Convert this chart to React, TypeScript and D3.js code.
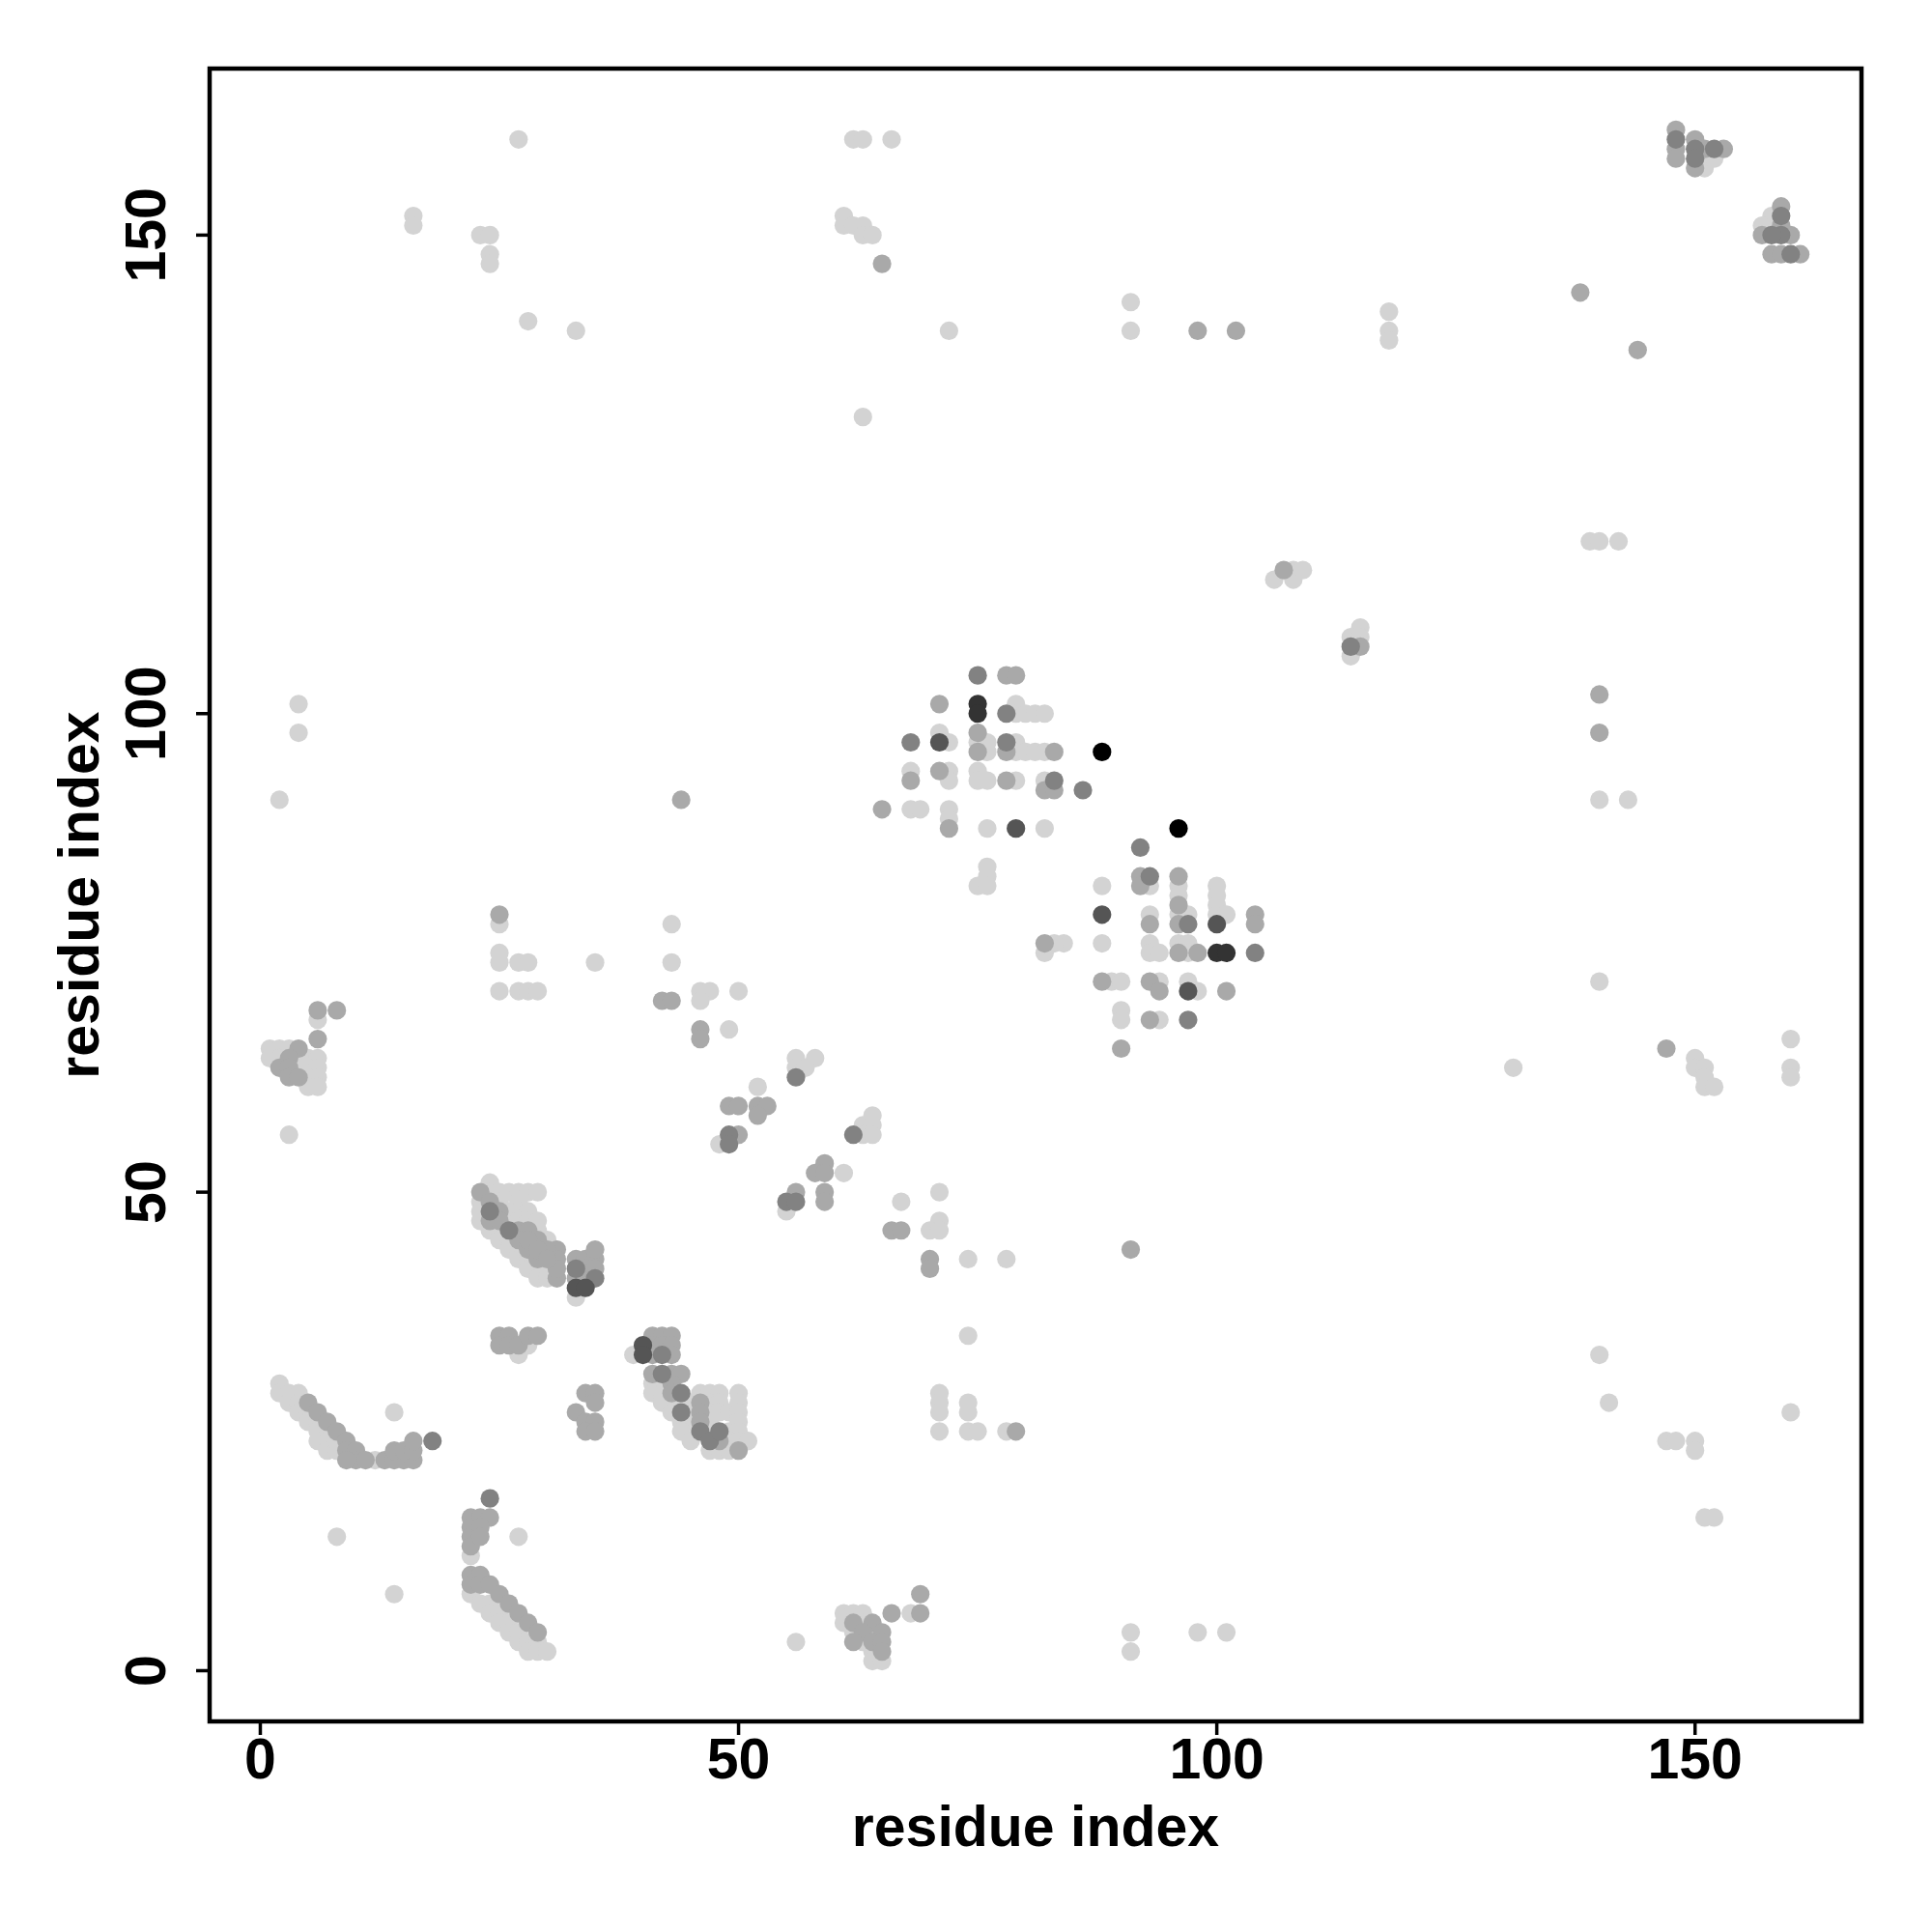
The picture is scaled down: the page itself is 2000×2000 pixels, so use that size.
import React from "react";
import * as d3 from "d3";

// contact map points [residue i, residue j], grouped by grey level
const lightContacts: [number, number][] = [
  [27,160],[16,152],[16,151],[23,150],[24,150],[24,148],[24,147],[28,141],[33,140],
  [62,160],[63,160],[66,160],[61,152],[61,151],[62,151],[63,151],[63,150],[64,150],[63,131],[72,140],[91,143],[91,140],[118,142],[118,140],[118,139],
  [151,158],[151,157],[152,158],[158,152],[158,151],[157,151],
  [139,118],[140,118],[142,118],[106,114],[108,115],[108,114],[109,115],[115,109],[114,108],[115,108],[114,106],
  [140,91],[143,91],[140,72],[131,63],[160,66],[160,63],[160,62],[150,64],[150,63],[151,63],[151,62],[151,61],[152,61],
  [140,33],[141,28],[160,27],[147,24],[148,24],[150,24],[150,23],[151,16],[152,16],
  [4,101],[4,98],[2,91],[6,68],[3,56],
  [1,65],[2,65],[3,65],[1,64],[2,64],[4,64],[5,64],[6,64],[4,63],[5,63],[6,63],[5,62],[6,62],[5,61],[6,61],
  [25,78],[25,75],[25,74],[27,74],[28,74],[35,74],[43,78],[43,74],[25,71],[27,71],[28,71],[29,71],[46,71],[47,71],[46,70],[50,71],[49,67],
  [79,101],[79,100],[80,100],[81,100],[82,100],[71,98],[72,97],[75,97],[76,97],[76,96],[79,97],[79,96],[80,96],[81,96],[82,96],
  [68,94],[72,94],[72,93],[75,94],[75,93],[76,93],[79,93],[82,93],[68,90],[69,90],[72,90],[72,89],[76,88],[82,88],[76,84],[76,83],[75,82],[76,82],[88,82],
  [93,82],[96,82],[96,81],[96,79],[97,79],[100,82],[100,81],[100,80],[100,79],[101,79],[93,79],[84,76],[83,76],[82,75],[88,76],[93,76],[93,75],[94,75],
  [96,76],[97,76],[97,75],[89,72],[90,72],[94,72],[97,72],[98,71],[90,69],[90,68],[94,68],
  [56,64],[58,64],[56,63],[57,63],[52,61],[48,55],[61,52],[55,48],[64,58],[63,57],[64,57],[63,56],[64,56],
  [67,49],[71,50],[71,47],[70,46],[71,46],[74,43],[78,43],[74,35],[71,29],[71,28],[71,27],[71,25],[74,28],[74,27],[74,25],[75,25],[78,25],
  [91,4],[91,2],[98,4],[101,4],[56,3],[68,6],
  [61,6],[62,6],[63,6],[61,5],[63,5],[62,4],[64,4],[63,3],[64,2],[64,1],[65,1],
  [2,30],[2,29],[3,29],[4,29],[3,28],[4,28],[4,27],[5,27],[5,26],[6,26],[6,25],[7,25],[6,24],[7,24],[7,23],[8,23],[8,24],
  [12,22],[14,27],[8,14],[14,8],[27,14],[22,12],
  [22,8],[23,7],[24,7],[24,6],[25,6],[25,5],[26,5],[26,4],[27,4],[27,3],[28,3],[28,2],[29,3],[29,2],[30,2],
  [39,33],[41,30],[42,30],[41,29],[42,29],[46,29],[47,29],[48,29],[50,29],[42,28],[43,28],[45,28],[47,28],[48,28],[50,28],
  [43,27],[45,27],[47,27],[48,27],[49,27],[50,27],[44,26],[45,26],[47,26],[50,26],[44,25],[49,25],[50,25],
  [45,24],[49,24],[50,24],[51,24],[47,23],[48,23],[49,23],
  [27,33],[28,34],[33,39],[30,43],
  [24,51],[24,50],[25,50],[26,50],[27,50],[28,50],[29,50],[23,49],[25,49],[27,49],[23,48],[26,48],[27,48],[28,48],
  [23,47],[26,47],[27,47],[28,47],[29,47],[24,46],[25,46],[29,46],[25,45],[26,45],[30,45],[26,44],[27,44],[27,43],[28,43],
  [28,42],[29,42],[30,42],[29,41],[30,41]
];

const mediumContacts: [number, number][] = [
  [65,147],[98,140],[102,140],[138,144],[144,138],
  [148,161],[148,159],[148,158],[150,160],[150,157],[151,159],[153,159],[159,153],[159,151],[157,150],[160,150],[158,148],[159,148],[161,148],
  [107,115],[115,107],[140,102],[140,98],[147,65],
  [78,104],[79,104],[71,101],[75,98],[75,96],[78,96],[83,96],[68,93],[71,94],[78,93],[82,92],[83,92],[65,90],[72,88],
  [92,83],[92,82],[96,83],[96,80],[96,78],[104,79],[104,78],[93,78],[96,75],[98,75],[88,72],[93,72],[94,71],[101,71],[93,68],[90,65],[82,76],
  [44,91],[91,44],
  [6,69],[8,69],[6,66],[25,79],[4,65],[3,64],[2,63],[3,63],[3,62],[4,62],
  [42,70],[43,70],[46,67],[46,66],[49,59],[50,59],[52,59],[53,59],[52,58],[50,56],[59,53],[58,52],[59,52],[56,50],[59,50],[59,49],
  [66,46],[67,46],[70,43],[70,42],[79,25],
  [69,8],[66,6],[69,6],[62,5],[64,5],[63,4],[65,4],[62,3],[64,3],[65,3],[65,2],
  [5,28],[6,27],[7,26],[8,25],[9,24],[9,23],[10,23],[10,22],[9,22],[11,22],
  [13,22],[14,22],[15,22],[16,22],[14,23],[15,23],[16,23],[16,24],
  [22,16],[23,16],[24,16],[22,15],[22,14],[22,13],[23,15],[23,14],
  [22,10],[23,10],[22,9],[23,9],[24,9],[25,8],[26,7],[27,6],[28,5],[29,4],
  [41,35],[42,35],[43,35],[41,34],[42,34],[43,34],[41,33],[43,33],[41,31],[43,31],[44,31],[43,30],[43,29],
  [46,28],[46,27],[46,26],[48,24],[50,23],
  [25,35],[26,35],[25,34],[26,34],[27,34],[28,35],[29,35],
  [31,44],[31,43],[31,41],[33,43],[34,43],[35,43],[34,42],[35,42],[33,41],[35,44],[34,29],[35,29],[35,28],[33,27],[34,26],[35,26],[34,25],[35,25],
  [23,50],[24,49],[25,48],[24,47],[27,46],[28,46],[27,45],[29,45],[28,44],[30,44],[29,43],[31,42],
  [25,47],[28,45],[29,44],[30,43]
];

const darkerContacts: [number, number][] = [
  [148,160],[150,159],[150,158],[152,159],[159,152],[159,150],[158,150],[160,148],
  [114,107],[75,104],[78,100],[68,97],[78,97],[83,93],[86,92],[92,86],[93,83],[97,78],[104,75],[97,68],
  [62,56],[56,62],[49,56],[49,55],[55,49],[56,49],[24,18],[18,24],
  [42,33],[42,31],[44,29],[44,27],[46,25],[47,24],[48,25],
  [33,42],[35,41],[24,48],[26,46]
];

const darkContacts: [number, number][] = [
  [71,97],[79,88],[88,79],[100,78],[97,71],[33,40],[34,40],[40,34],[40,33]
];

const veryDarkContacts: [number, number][] = [
  [75,101],[75,100],[100,75],[101,75]
];

const blackContacts: [number, number][] = [
  [88,96],[96,88]
];

const tickValues = [0, 50, 100, 150];
const axisTitle = "residue index";

const layers: { pts: [number, number][]; color: string }[] = [
  { pts: lightContacts, color: "#d3d3d3" },
  { pts: mediumContacts, color: "#a9a9a9" },
  { pts: darkerContacts, color: "#828282" },
  { pts: darkContacts, color: "#555555" },
  { pts: veryDarkContacts, color: "#333333" },
  { pts: blackContacts, color: "#000000" },
];

export default function App() {
  const W = 2000, H = 2000;
  const left = 217, right = 1927, top = 71, bottom = 1782;
  const x = d3.scaleLinear().domain([-5.3, 167.4]).range([left, right]);
  const y = d3.scaleLinear().domain([-5.3, 167.4]).range([bottom, top]);
  const font = "'Liberation Sans', Arial, Helvetica, sans-serif";
  const r = 9.6;
  const tickLen = 14;
  return (
    <svg width={W} height={H} style={{ position: "absolute", left: 0, top: 0, background: "#fff" }}>
      <rect x={0} y={0} width={W} height={H} fill="#fff" />
      {layers.map((layer, li) => (
        <g key={li}>
          {layer.pts.map(([a, b], i) => (
            <circle key={i} cx={x(a)} cy={y(b)} r={r} fill={layer.color} />
          ))}
        </g>
      ))}
      <rect x={left} y={top} width={right - left} height={bottom - top} fill="none" stroke="#000" strokeWidth={4.5} />
      {tickValues.map((t) => (
        <g key={"x" + t}>
          <line x1={x(t)} x2={x(t)} y1={bottom} y2={bottom + tickLen} stroke="#000" strokeWidth={3.5} />
          <text x={x(t)} y={1841} textAnchor="middle" fontFamily={font} fontWeight="bold" fontSize={59}>{t}</text>
        </g>
      ))}
      {tickValues.map((t) => (
        <g key={"y" + t}>
          <line x1={left - tickLen} x2={left} y1={y(t)} y2={y(t)} stroke="#000" strokeWidth={3.5} />
          <text transform={`translate(171,${y(t)}) rotate(-90)`} textAnchor="middle" fontFamily={font} fontWeight="bold" fontSize={59}>{t}</text>
        </g>
      ))}
      <text x={(left + right) / 2} y={1911} textAnchor="middle" fontFamily={font} fontWeight="bold" fontSize={59}>{axisTitle}</text>
      <text transform={`translate(102,${(top + bottom) / 2}) rotate(-90)`} textAnchor="middle" fontFamily={font} fontWeight="bold" fontSize={59}>{axisTitle}</text>
    </svg>
  );
}
